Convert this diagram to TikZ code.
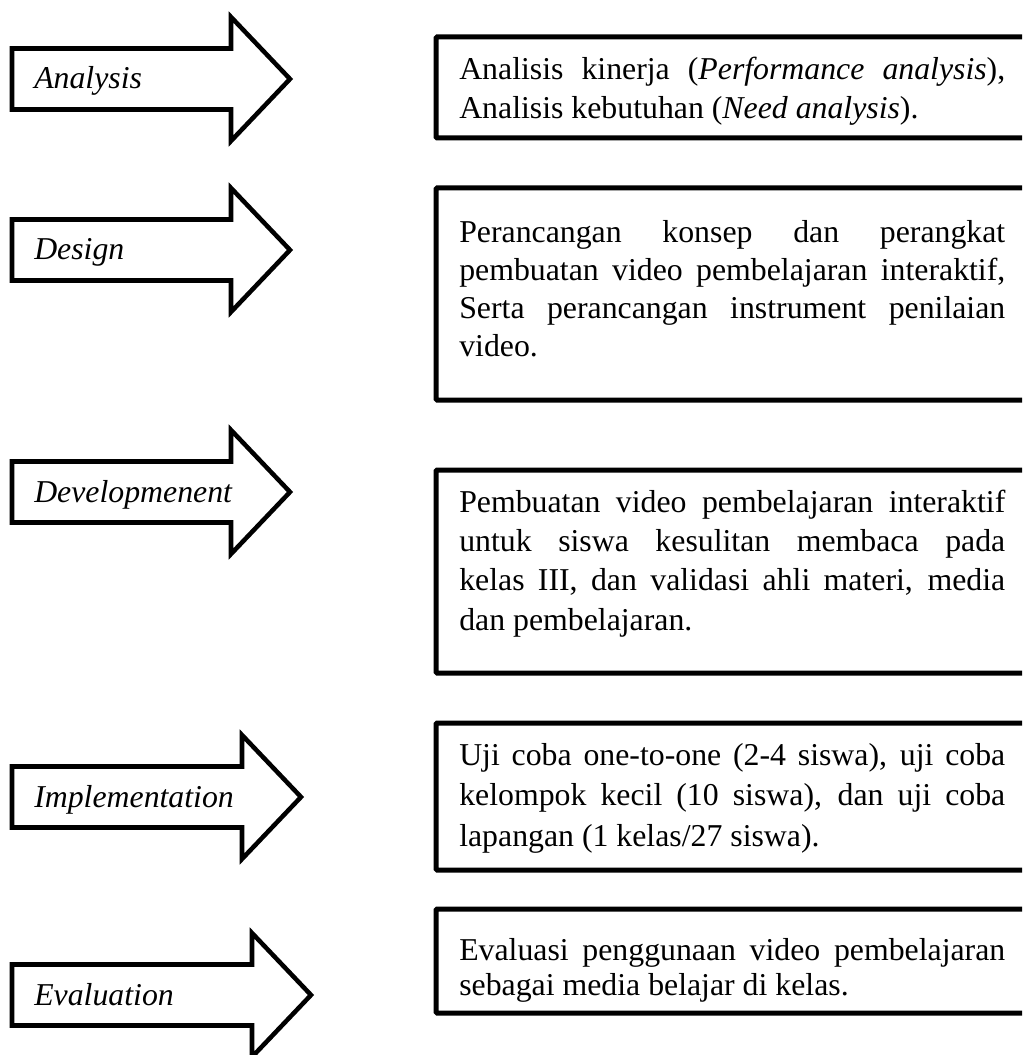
\documentclass[tikz,border=0pt]{standalone}
\usepackage{fontspec}
\setmainfont{Liberation Serif}
\tolerance=10000\relax
\hbadness=10000\relax
\hyphenpenalty=10000\relax
\exhyphenpenalty=10000\relax
\newcommand\stagearrow[4]{%
  \draw[arrowshape] (12,#2-30.5) -- (#3,#2-30.5) -- (#3,#2-62) -- (#3+59,#2)
     -- (#3,#2+62) -- (#3,#2+30.5) -- (12,#2+30.5) -- cycle;
  \node[steplabel] (#1) at (34,#2+10) {#4};}
\begin{document}
\begin{tikzpicture}[x=0.75pt,y=-0.75pt,
  arrowshape/.style={draw=black,line width=3.4pt,line join=miter,miter limit=10,fill=white},
  boxframe/.style={draw=black,line width=3.75pt,rounded corners=0.8pt},
  steplabel/.style={font=\fontsize{23.85}{28}\selectfont\itshape,inner sep=0pt,anchor=base west},
  boxtext/.style={inner sep=0pt,anchor=base west,text width=409.5pt,align=justify}]
\useasboundingbox (0,0) rectangle (1022,1055);
\clip (0,0) rectangle (1022,1055);

\stagearrow{lanalysis}{79}{231}{Analysis}
\stagearrow{ldesign}{250}{231}{Design}
\stagearrow{ldevelop}{492}{231}{Developmenent}
\stagearrow{limplement}{797}{242}{Implementation}
\stagearrow{levaluate}{995}{252}{Evaluation}

\draw[boxframe] (436,37) rectangle (1045,138);
\draw[boxframe] (436,188) rectangle (1045,400);
\draw[boxframe] (436,470) rectangle (1045,673);
\draw[boxframe] (436,723) rectangle (1045,870);
\draw[boxframe] (436,909) rectangle (1045,1013);

\node[boxtext,font=\fontsize{23.85}{29.25}\selectfont] (tanalysis) at (459,80)
 {Analisis kinerja (\textit{Performance analysis}),\linebreak Analisis kebutuhan (\textit{Need analysis}).};
\node[boxtext,font=\fontsize{23.85}{28.5}\selectfont] (tdesign) at (459,243)
 {Perancangan konsep dan perangkat\linebreak pembuatan video pembelajaran interaktif,\linebreak Serta perancangan instrument penilaian\linebreak video.};
\node[boxtext,font=\fontsize{23.85}{29.6}\selectfont] (tdevelop) at (459,512)
 {Pembuatan video pembelajaran interaktif\linebreak untuk siswa kesulitan membaca pada\linebreak kelas III, dan validasi ahli materi, media\linebreak dan pembelajaran.};
\node[boxtext,font=\fontsize{23.85}{30.5}\selectfont] (timplement) at (459,765)
 {Uji coba one-to-one (2-4 siswa), uji coba\linebreak kelompok kecil (10 siswa), dan uji coba\linebreak lapangan (1 kelas/27 siswa).};
\node[boxtext,font=\fontsize{23.85}{26.5}\selectfont] (tevaluate) at (459,960)
 {Evaluasi penggunaan video pembelajaran\linebreak sebagai media belajar di kelas.};
\end{tikzpicture}
\end{document}
